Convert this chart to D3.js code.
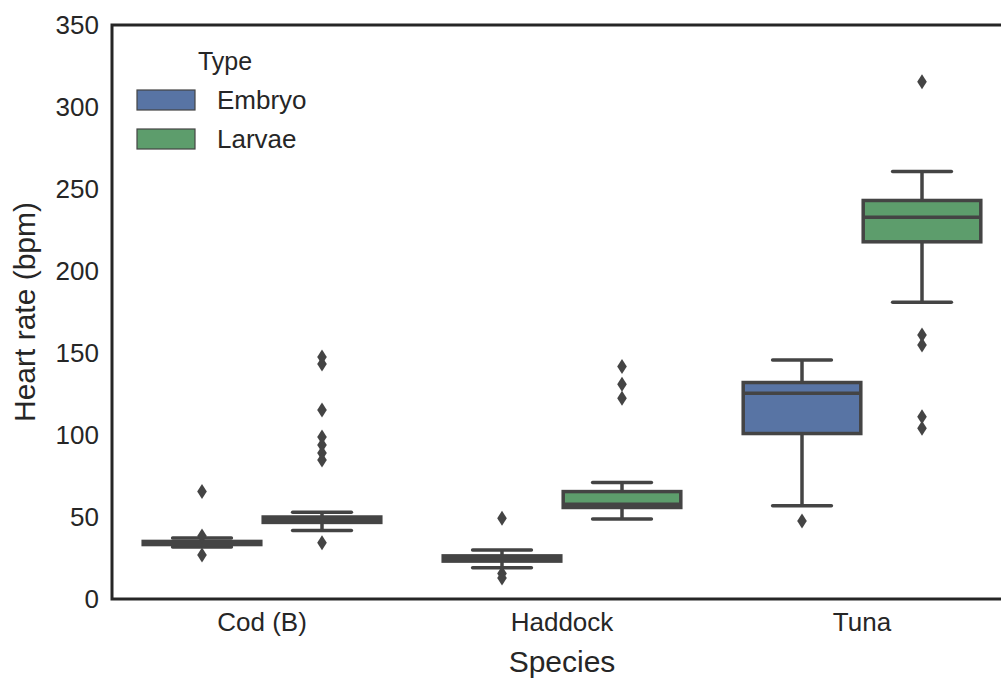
<!DOCTYPE html>
<html>
<head>
<meta charset="utf-8">
<script src="https://cdn.jsdelivr.net/npm/d3@7"></script>
<style>
  html, body { margin: 0; padding: 0; background: #fff; }
  svg { display: block; font-family: "Liberation Sans", Arial, sans-serif; }
</style>
</head>
<body>
<svg id="chart" width="1001" height="682"></svg>
<script>
// categories
var species = ['Cod (B)', 'Haddock', 'Tuna'];
var types = ['Embryo', 'Larvae'];
var typeColors = ['#5874a4', '#5d9d6c'];
var yTicks = [0, 50, 100, 150, 200, 250, 300, 350];

// box stats per species: [whisker low, q1, median, q3, whisker high]
var embryoBoxes = [
    [31.7, 33.2, 34, 35.1, 37.2],
    [19.1, 23.1, 24.5, 26.3, 29.9],
    [56.9, 100.9, 125.4, 132, 145.7]
];
var larvaeBoxes = [
    [41.7, 46.7, 48.5, 50, 52.9],
    [48.8, 55.8, 57.7, 65.5, 71.1],
    [180.9, 217.8, 232.7, 243, 260.6]
];

// outliers per species
var embryoOutliers = [
    [65.5, 38.4, 26.8],
    [49.2, 15.6, 12.8],
    [47.6]
];
var larvaeOutliers = [
    [147.5, 143.3, 115.2, 98.8, 93.9, 89, 84.8, 34.3],
    [141.7, 130.9, 122.4],
    [315.4, 161, 154.9, 111.2, 104.1]
];

var margin = {top: 25, right: -11, bottom: 83, left: 112},
    width = 1001 - margin.left - margin.right,
    height = 682 - margin.top - margin.bottom;

var ink = '#262626',
    boxLine = '#444444';

var svg = d3.select('#chart');
var g = svg.append('g').attr('transform', 'translate(' + margin.left + ',' + margin.top + ')');

var x = d3.scaleBand().domain(species).range([0, width]).padding(0);
var xType = d3.scaleBand().domain(types).range([0, x.bandwidth() * 0.8]).padding(0);
var y = d3.scaleLinear().domain([0, 350]).range([height, 0]);

var boxW = xType.bandwidth() * 0.98;

// build rows from the arrays
var rows = [];
species.forEach(function(s, i) {
    [embryoBoxes, larvaeBoxes].forEach(function(arr, t) {
        var b = arr[i];
        rows.push({
            species: s, type: types[t], color: typeColors[t],
            lo: b[0], q1: b[1], med: b[2], q3: b[3], hi: b[4],
            out: [embryoOutliers, larvaeOutliers][t][i]
        });
    });
});

var cx = function(d) {
    return x(d.species) + x.bandwidth() * 0.1 + xType(d.type) + xType.bandwidth() / 2;
};

// y axis labels (no tick marks)
var yAxis = d3.axisLeft(y).tickValues(yTicks).tickSize(0).tickPadding(13);
g.append('g').call(yAxis)
    .call(function(a) { a.select('.domain').remove(); })
    .selectAll('text')
    .attr('fill', ink)
    .style('font-size', '26px')
    .style('font-family', '"Liberation Sans", Arial, sans-serif');

var xAxis = d3.axisBottom(x).tickSize(0).tickPadding(14);
g.append('g').attr('transform', 'translate(0,' + height + ')').call(xAxis)
    .call(function(a) { a.select('.domain').remove(); })
    .selectAll('text')
    .attr('fill', ink)
    .style('font-size', '26px')
    .style('font-family', '"Liberation Sans", Arial, sans-serif');

// boxes
var box = g.selectAll('.box').data(rows).enter().append('g').attr('class', 'box');

box.append('line')
    .attr('x1', cx).attr('x2', cx)
    .attr('y1', function(d) { return y(d.hi); })
    .attr('y2', function(d) { return y(d.q3); });
box.append('line')
    .attr('x1', cx).attr('x2', cx)
    .attr('y1', function(d) { return y(d.q1); })
    .attr('y2', function(d) { return y(d.lo); });
['hi', 'lo'].forEach(function(k) {
    box.append('line')
        .attr('x1', function(d) { return cx(d) - boxW / 4; })
        .attr('x2', function(d) { return cx(d) + boxW / 4; })
        .attr('y1', function(d) { return y(d[k]); })
        .attr('y2', function(d) { return y(d[k]); })
        .attr('stroke-linecap', 'round');
});
box.append('rect')
    .attr('x', function(d) { return cx(d) - boxW / 2; })
    .attr('width', boxW)
    .attr('y', function(d) { return y(d.q3); })
    .attr('height', function(d) { return y(d.q1) - y(d.q3); })
    .attr('fill', function(d) { return d.color; });
box.append('line')
    .attr('x1', function(d) { return cx(d) - boxW / 2; })
    .attr('x2', function(d) { return cx(d) + boxW / 2; })
    .attr('y1', function(d) { return y(d.med); })
    .attr('y2', function(d) { return y(d.med); });
box.selectAll('line, rect').attr('stroke', boxLine).attr('stroke-width', 3.5);

// outliers as thin diamonds
box.selectAll('.flier')
    .data(function(d) { return d.out.map(function(v) { return {x: cx(d), v: v}; }); })
    .enter().append('path')
    .attr('class', 'flier')
    .attr('d', function(d) {
        var px = d.x, py = y(d.v);
        return 'M' + px + ',' + (py - 7.5) + 'L' + (px + 4.8) + ',' + py +
            'L' + px + ',' + (py + 7.5) + 'L' + (px - 4.8) + ',' + py + 'Z';
    })
    .attr('fill', boxLine);

// frame
g.append('rect')
    .attr('x', 0).attr('y', 0)
    .attr('width', width).attr('height', height)
    .attr('fill', 'none')
    .attr('stroke', ink)
    .attr('stroke-width', 3);

// axis titles
svg.append('text')
    .attr('x', margin.left + x('Haddock') + x.bandwidth() / 2)
    .attr('y', 672)
    .attr('text-anchor', 'middle')
    .attr('fill', ink)
    .style('font-size', '30px')
    .text('Species');

svg.append('text')
    .attr('transform', 'translate(35,' + (margin.top + y(175)) + ') rotate(-90)')
    .attr('text-anchor', 'middle')
    .attr('fill', ink)
    .style('font-size', '30px')
    .text('Heart rate (bpm)');

// legend
var legend = svg.append('g').attr('transform', 'translate(137,0)');
legend.append('text')
    .attr('x', 88).attr('y', 70)
    .attr('text-anchor', 'middle')
    .attr('fill', ink)
    .style('font-size', '25px')
    .text('Type');
var item = legend.selectAll('.item').data(types).enter().append('g')
    .attr('transform', function(d, i) { return 'translate(0,' + (90 + i * 39) + ')'; });
item.append('rect')
    .attr('width', 58).attr('height', 20)
    .attr('fill', function(d, i) { return typeColors[i]; })
    .attr('stroke', boxLine).attr('stroke-width', 1.2);
item.append('text')
    .attr('x', 80).attr('y', 10).attr('dy', '0.35em')
    .attr('fill', ink)
    .style('font-size', '26px')
    .text(function(d) { return d; });
</script>
</body>
</html>
